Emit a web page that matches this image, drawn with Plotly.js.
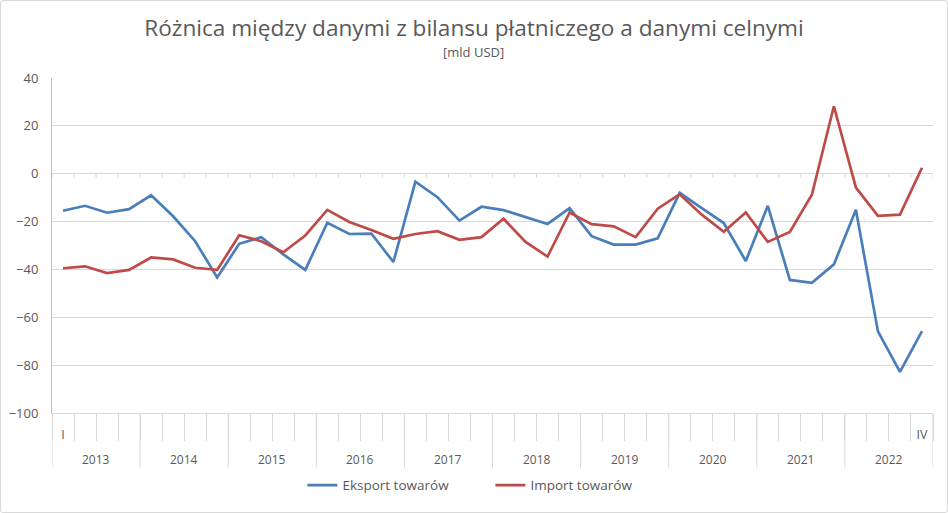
<!DOCTYPE html>
<html>
<head>
<meta charset="utf-8">
<script src="https://cdn.plot.ly/plotly-3.0.1.min.js"></script>
<style>
html,body{margin:0;padding:0;background:#fff;}
#wrap{position:relative;width:948px;height:513px;}
#chart{width:948px;height:513px;}
#frame{position:absolute;left:0;top:0;width:946px;height:511px;border:1px solid #d9d9d9;border-radius:3px;pointer-events:none;}
</style>
</head>
<body>
<div id="wrap"><div id="chart"></div><div id="frame"></div></div>
<script>
const years = ['2013','2014','2015','2016','2017','2018','2019','2020','2021','2022'];
const quarterNames = ['I','II','III','IV'];
const eksport = [-15.5,-13.4,-16.3,-14.8, -9.0,-17.8,-28.2,-43.4, -29.3,-26.5,-33.7,-40.2,
                 -20.5,-25.2,-25.0,-36.9, -3.3,-9.8,-19.6,-13.8, -15.2,-18.2,-21.0,-14.4,
                 -26.1,-29.6,-29.6,-27.0, -8.0,-14.4,-20.6,-36.5, -13.4,-44.4,-45.6,-37.9,
                 -15.1,-65.9,-82.8,-65.8];
const importT = [-39.5,-38.7,-41.5,-40.2, -35.0,-35.8,-39.3,-40.2, -25.7,-28.2,-32.8,-25.8,
                 -15.1,-20.2,-23.5,-27.2, -25.2,-24.0,-27.6,-26.5, -18.8,-28.5,-34.6,-16.2,
                 -21.1,-22.0,-26.5,-14.6, -8.6,-17.1,-24.3,-16.2, -28.5,-24.3,-8.8,28.2,
                 -5.8,-17.6,-17.1,2.5];
const seriesNames = ['Eksport towarów','Import towarów'];
const yTicks = [-100,-80,-60,-40,-20,0,20,40];

const nq = quarterNames.length;
const n = years.length * nq;
const idx = Array.from({length: n}, (_, i) => i);            // quarter index
const qBoundaries = Array.from({length: n + 1}, (_, i) => i - 0.5);
const yBoundaries = Array.from({length: years.length + 1}, (_, i) => i * nq - 0.5);
const yearCenters = years.map((_, i) => i * nq + (nq - 1) / 2);
const endTickVals = [0, n - 1];
const endTickText = [quarterNames[0], quarterNames[nq - 1]];

const grey = '#595959';
const gridC = '#d9d9d9';
const plotH = 513 - 78 - 97;

const traces = [
  {x: idx, y: eksport, name: seriesNames[0], type: 'scatter', mode: 'lines',
   line: {color: '#4a7ebb', width: 2.7}},
  {x: idx, y: importT, name: seriesNames[1], type: 'scatter', mode: 'lines',
   line: {color: '#be4b48', width: 2.7}}
];

// year dividers below the axis, and small ticks on the zero line (axis crossing)
const shapes = [];
yBoundaries.forEach(b => shapes.push({type: 'line', xref: 'x', yref: 'paper',
  x0: b, x1: b, y0: 0, y1: -55 / plotH, line: {color: gridC, width: 1}}));
qBoundaries.forEach(b => shapes.push({type: 'line', xref: 'x', yref: 'y',
  ysizemode: 'pixel', yanchor: 0, x0: b, x1: b, y0: 0, y1: -4,
  line: {color: gridC, width: 1}}));

const annotations = [{text: '[mld USD]', xref: 'paper', yref: 'paper', x: 0.479, y: 1.077,
                 xanchor: 'center', yanchor: 'middle', showarrow: false,
                 font: {size: 13, color: grey}}];
years.forEach((yr, i) => annotations.push({text: yr, xref: 'x', yref: 'paper',
  x: yearCenters[i], y: -(463 - 416) / plotH, xanchor: 'center', yanchor: 'middle',
  showarrow: false, font: {size: 12, color: grey}}));

const layout = {
  width: 948, height: 513,
  margin: {l: 52, r: 15, t: 78, b: 97},
  paper_bgcolor: '#fff', plot_bgcolor: '#fff',
  font: {family: 'Open Sans, sans-serif', color: grey, size: 12},
  title: {text: 'Różnica między danymi z bilansu płatniczego a danymi celnymi',
          font: {family: 'Open Sans, sans-serif', size: 22.6, color: grey},
          x: 0.5, xanchor: 'center', xref: 'container', y: 0.945, yanchor: 'middle'},
  annotations: annotations,
  shapes: shapes,
  showlegend: true,
  legend: {orientation: 'h', x: 0.2842, xanchor: 'left', y: -0.216, yanchor: 'middle',
           font: {size: 13.5, color: grey}, itemwidth: 30, entrywidth: 143},
  xaxis: {type: 'linear', range: [-0.5, n - 0.5], showgrid: false, zeroline: false,
          showline: true, linecolor: gridC, linewidth: 1,
          tickmode: 'array', tickvals: endTickVals, ticktext: endTickText,
          ticks: '', ticklabelstandoff: 10, tickfont: {size: 12.5, color: grey},
          minor: {tickmode: 'array', tickvals: qBoundaries, ticks: 'outside',
                  ticklen: 27, tickcolor: gridC, tickwidth: 1, showgrid: false}},
  yaxis: {range: [-100, 40], tickmode: 'array', tickvals: yTicks,
          showgrid: true, gridcolor: gridC, gridwidth: 1, zeroline: false,
          showline: true, linecolor: '#bfbfbf', linewidth: 1, ticks: '',
          tickfont: {size: 13, color: grey}, ticklabelstandoff: 10}
};

Plotly.newPlot('chart', traces, layout, {displayModeBar: false, staticPlot: true});
</script>
</body>
</html>
